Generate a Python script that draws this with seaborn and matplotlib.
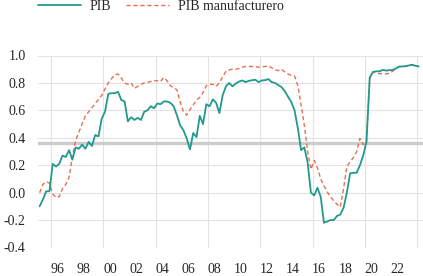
import numpy as np
import pandas as pd
import matplotlib
matplotlib.use("Agg")
import matplotlib.pyplot as plt
import seaborn as sns

# ─── Datos (trimestrales, 1995T1 - 2024T1) ──────────────────────────────────
trimestres = pd.period_range("1995Q1", "2024Q1", freq="Q")

pib = [
    -0.10, -0.05, 0.01, 0.01,
    0.21, 0.19, 0.21, 0.27,
    0.26, 0.31, 0.24, 0.33,
    0.32, 0.35, 0.32, 0.37,
    0.34, 0.42, 0.41, 0.54,
    0.59, 0.72, 0.725, 0.725,
    0.735, 0.675, 0.665, 0.52,
    0.55, 0.53, 0.545, 0.53,
    0.59, 0.60, 0.63, 0.615,
    0.65, 0.645, 0.665, 0.665,
    0.655, 0.63, 0.565, 0.49,
    0.455, 0.395, 0.315, 0.435,
    0.405, 0.56, 0.50, 0.645,
    0.63, 0.68, 0.655, 0.58,
    0.71, 0.775, 0.80, 0.775,
    0.795, 0.81, 0.818, 0.806,
    0.815, 0.82, 0.823, 0.806,
    0.818, 0.82, 0.828, 0.806,
    0.80, 0.785, 0.77, 0.74,
    0.70, 0.66, 0.60, 0.47,
    0.31, 0.33, 0.22, 0.00,
    -0.02, 0.035, -0.03, -0.22,
    -0.21, -0.20, -0.20, -0.17,
    -0.16, -0.11, 0.00, 0.14,
    0.145, 0.145, 0.20, 0.27,
    0.37, 0.84, 0.88, 0.885,
    0.885, 0.895, 0.89, 0.893,
    0.895, 0.905, 0.92, 0.92,
    0.922, 0.928, 0.932, 0.925,
    0.92,
]

pib_manuf = [
    0.00, 0.06, 0.08, 0.07,
    -0.01, -0.035, -0.03, 0.03,
    0.06, 0.11, 0.26, 0.38,
    0.44, 0.50, 0.56, 0.59,
    0.62, 0.65, 0.68, 0.71,
    0.755, 0.80, 0.83, 0.86,
    0.865, 0.835, 0.80, 0.79,
    0.80, 0.76, 0.775, 0.79,
    0.80, 0.805, 0.81, 0.818,
    0.815, 0.81, 0.84, 0.815,
    0.78, 0.765, 0.75, 0.66,
    0.59, 0.565, 0.605, 0.64,
    0.675, 0.695, 0.73, 0.78,
    0.79, 0.79, 0.775, 0.80,
    0.845, 0.885, 0.895, 0.90,
    0.90, 0.905, 0.915, 0.92,
    0.92, 0.92, 0.918, 0.915,
    0.918, 0.92, 0.925, 0.91,
    0.895, 0.89, 0.90, 0.88,
    0.865, 0.855, 0.85, 0.78,
    0.64, 0.49, 0.30, 0.17,
    0.235, 0.18, 0.10, 0.05,
    0.005, -0.03, -0.06, -0.085,
    -0.105, 0.03, 0.19, 0.225,
    0.255, 0.30, 0.395, 0.35,
    0.37, 0.83, 0.883, 0.872,
    0.868, 0.866, 0.866, 0.87,
    0.885, 0.905, 0.918, 0.92,
    0.922, 0.928, 0.93, 0.925,
    0.92,
]

umbral = 0.365
etiquetas_x = ["96", "98", "00", "02", "04", "06", "08", "10",
               "12", "14", "16", "18", "20", "22"]

# año decimal a mitad de trimestre
fecha = trimestres.year + (trimestres.quarter - 1) / 4 + 0.125
df = pd.DataFrame({"fecha": fecha, "PIB": pib, "PIB manufacturero": pib_manuf})

# ─── Estilo ─────────────────────────────────────────────────────────────────
sns.set_style("white")
plt.rcParams["font.family"] = ["Liberation Serif", "DejaVu Serif"]
plt.rcParams["font.size"] = 10

fig = plt.figure(figsize=(4.23, 2.76), dpi=100)
ax = fig.add_axes([38 / 423, 28.5 / 276, 1 - 38 / 423, 192 / 276])

ax.axhline(umbral, color="#cccccc", linewidth=2.4, zorder=1)
sns.lineplot(data=df, x="fecha", y="PIB", ax=ax, color="#22998b",
             linewidth=1.3, label="PIB", zorder=3)
sns.lineplot(data=df, x="fecha", y="PIB manufacturero", ax=ax,
             color="#e76f51", linewidth=1.0,
             label="PIB manufacturero", zorder=2)
ax.lines[-1].set_linestyle((0, (3, 2)))

ax.set_xlim(1995.0, 2024.45)
ax.set_ylim(-0.4, 1.0)
ax.set_yticks(np.arange(-0.4, 1.01, 0.2))
ax.set_yticklabels([f"{v:.1f}" for v in np.arange(-0.4, 1.01, 0.2)])
ax.set_xticks([1996.5 + 2 * i for i in range(len(etiquetas_x))])
ax.set_xticklabels(etiquetas_x)
ax.set_xticks(np.arange(1996, 2025, 4), minor=True)
ax.tick_params(axis="both", which="both", length=0, labelsize=10)
ax.tick_params(axis="x", pad=11)
ax.tick_params(axis="y", pad=9)
ax.grid(False)
ax.grid(True, axis="y", which="major", color="#e3e3e3", linewidth=0.8)
ax.grid(True, axis="x", which="minor", color="#e3e3e3", linewidth=0.8)
ax.set_xlabel("")
ax.set_ylabel("")
for s in ax.spines.values():
    s.set_visible(False)

ax.get_legend().remove()
h, l = ax.get_legend_handles_labels()
fig.legend(h, l, loc="center left", bbox_to_anchor=(31 / 423, 1 - 6 / 276),
           ncol=2, frameon=False, borderpad=0, handlelength=3.1,
           handletextpad=0.6, columnspacing=1.1, fontsize=10)

fig.savefig("out.png", dpi=100)
